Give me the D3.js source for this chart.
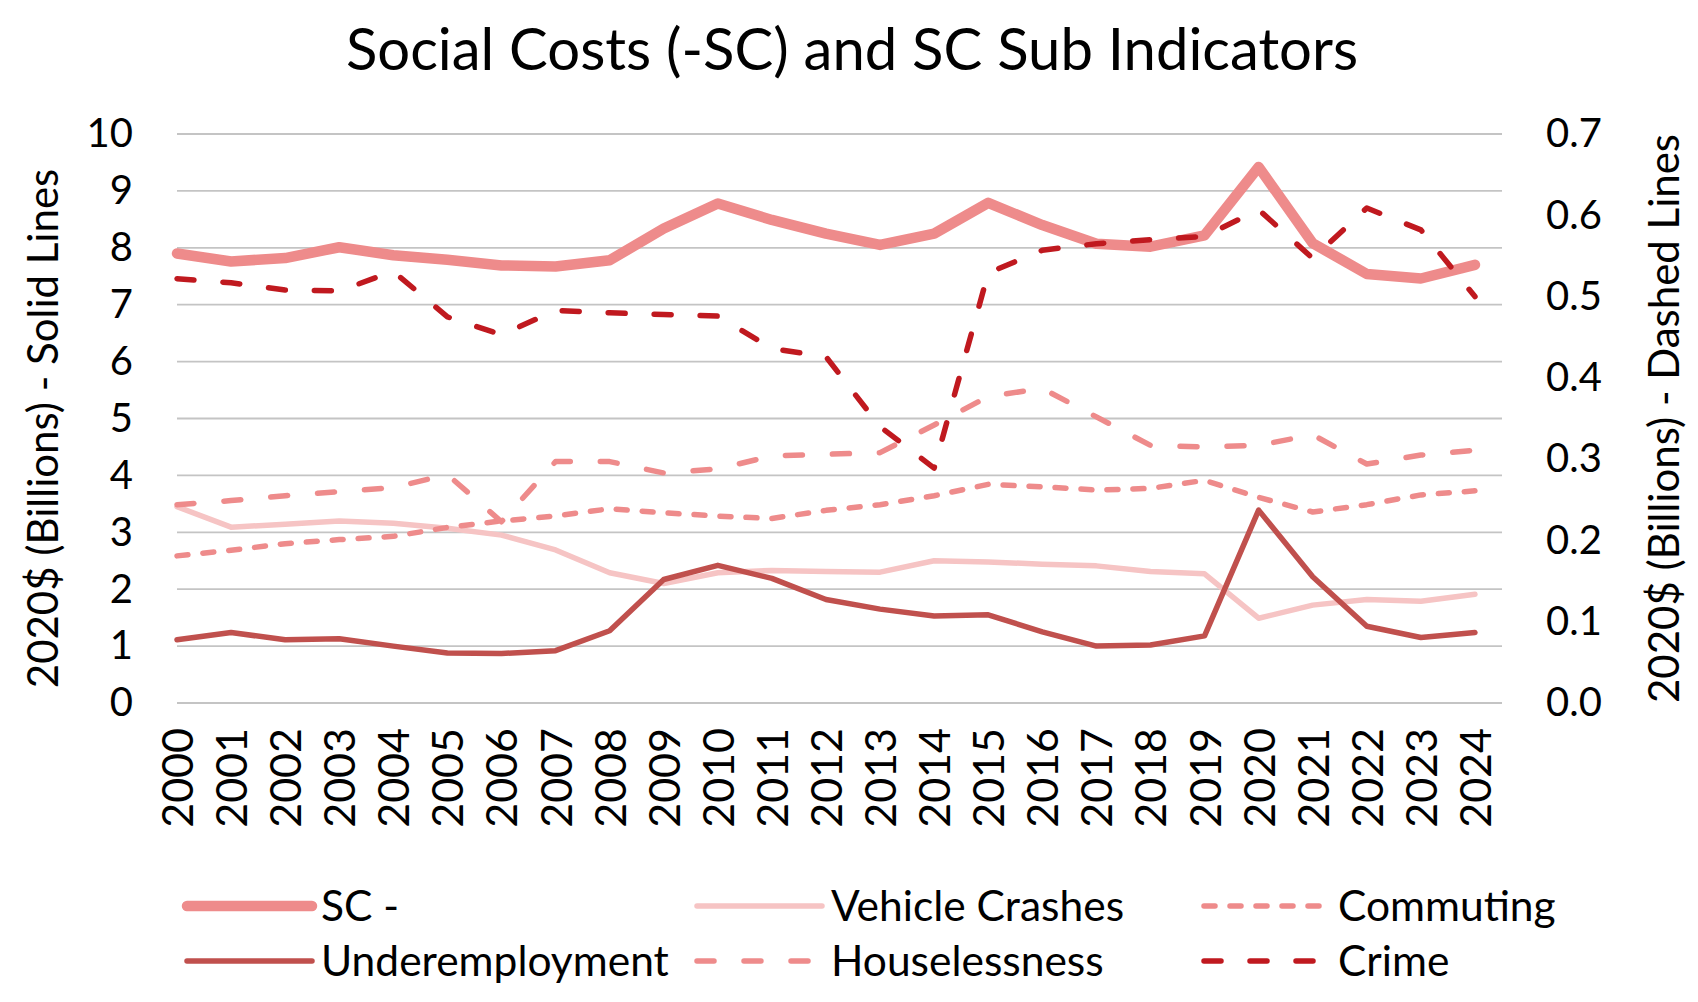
<!DOCTYPE html>
<html>
<head>
<meta charset="utf-8">
<script src="https://cdn.jsdelivr.net/npm/d3@7"></script>
<style>
  body { margin: 0; background: #fff; }
  svg { display: block; font-family: Lato, "Open Sans", sans-serif; }
</style>
</head>
<body>
<svg id="chart"></svg>
<script>
const years = d3.range(2000, 2025).map(String);

// left axis (solid lines)
const scTotal = [7.90, 7.76, 7.82, 8.01, 7.87, 7.79, 7.69, 7.67, 7.78, 8.34, 8.78, 8.49, 8.25, 8.05, 8.25, 8.79, 8.40, 8.07, 8.02, 8.22, 9.42, 8.08, 7.54, 7.46, 7.70];
const vehicleCrashes = [3.45, 3.09, 3.14, 3.20, 3.16, 3.07, 2.95, 2.69, 2.29, 2.10, 2.29, 2.33, 2.31, 2.30, 2.50, 2.48, 2.44, 2.41, 2.31, 2.27, 1.49, 1.72, 1.82, 1.79, 1.91];
const underemployment = [1.11, 1.24, 1.11, 1.13, 1.00, 0.88, 0.87, 0.92, 1.27, 2.17, 2.42, 2.19, 1.82, 1.65, 1.53, 1.55, 1.25, 1.00, 1.02, 1.18, 3.39, 2.22, 1.35, 1.15, 1.24];

// right axis (dashed lines)
const commuting = [0.181, 0.188, 0.196, 0.201, 0.205, 0.216, 0.224, 0.230, 0.239, 0.234, 0.230, 0.227, 0.237, 0.244, 0.255, 0.269, 0.266, 0.262, 0.264, 0.274, 0.253, 0.235, 0.244, 0.256, 0.261];
const houselessness = [0.244, 0.249, 0.255, 0.260, 0.265, 0.281, 0.223, 0.297, 0.297, 0.283, 0.288, 0.304, 0.306, 0.308, 0.342, 0.377, 0.387, 0.352, 0.317, 0.315, 0.317, 0.330, 0.294, 0.305, 0.311];
const crime = [0.522, 0.517, 0.508, 0.507, 0.531, 0.475, 0.453, 0.483, 0.480, 0.478, 0.476, 0.436, 0.426, 0.340, 0.289, 0.529, 0.557, 0.565, 0.570, 0.574, 0.607, 0.547, 0.609, 0.582, 0.500];

const leftTicks = d3.range(0, 11);
const rightTicks = d3.range(0, 0.71, 0.1);

const series = [
  {name: "SC -", values: scTotal, axis: "left", color: "#ee8b8b", width: 10.5, dash: null},
  {name: "Vehicle Crashes", values: vehicleCrashes, axis: "left", color: "#f6c4c4", width: 5.5, dash: null},
  {name: "Commuting", values: commuting, axis: "right", color: "#ee8b8b", width: 5.5, dash: "11,15"},
  {name: "Underemployment", values: underemployment, axis: "left", color: "#c0504d", width: 5.5, dash: null},
  {name: "Houselessness", values: houselessness, axis: "right", color: "#ee8b8b", width: 5.5, dash: "17,30"},
  {name: "Crime", values: crime, axis: "right", color: "#c0191f", width: 5.5, dash: "17,29"}
];

const width = 1698, height = 1002;
const plot = {left: 177, right: 1502, top: 134, bottom: 703};

const svg = d3.select("#chart")
  .attr("width", width)
  .attr("height", height);

const x = d3.scalePoint()
  .domain(years)
  .range([plot.left, plot.right - (plot.right - plot.left) / 49]);

const yLeft = d3.scaleLinear().domain([0, 10]).range([plot.bottom, plot.top]);
const yRight = d3.scaleLinear().domain([0, 0.7]).range([plot.bottom, plot.top]);

// gridlines
svg.append("g")
  .selectAll("line")
  .data(leftTicks)
  .join("line")
  .attr("x1", plot.left)
  .attr("x2", plot.right)
  .attr("y1", d => yLeft(d))
  .attr("y2", d => yLeft(d))
  .attr("stroke", "#c4c4c4")
  .attr("stroke-width", 1.8);

// left axis
const leftAxis = svg.append("g")
  .attr("transform", `translate(${plot.left - 44},0)`)
  .call(d3.axisLeft(yLeft).tickValues(leftTicks).tickSize(0).tickPadding(0).tickFormat(d3.format("d")));
leftAxis.select(".domain").remove();
leftAxis.selectAll("text")
  .attr("font-family", "Lato")
  .attr("font-size", 40)
  .attr("fill", "#000");

// right axis
const rightAxis = svg.append("g")
  .attr("transform", `translate(${plot.right + 44},0)`)
  .call(d3.axisRight(yRight).tickValues(rightTicks).tickSize(0).tickPadding(0).tickFormat(d3.format(".1f")));
rightAxis.select(".domain").remove();
rightAxis.selectAll("text")
  .attr("font-family", "Lato")
  .attr("font-size", 40)
  .attr("fill", "#000");

// x axis, rotated labels
const xAxis = svg.append("g")
  .attr("transform", `translate(0,${plot.bottom + 25})`)
  .call(d3.axisBottom(x).tickSize(0).tickPadding(0));
xAxis.select(".domain").remove();
xAxis.selectAll("text")
  .attr("font-family", "Lato")
  .attr("font-size", 43)
  .attr("fill", "#000")
  .attr("transform", "rotate(-90)")
  .attr("text-anchor", "end")
  .attr("dy", "0.36em")
  .attr("x", 0)
  .attr("y", 0);

// lines: primary series first, secondary on top
const drawOrder = series.filter(s => s.axis === "left").concat(series.filter(s => s.axis === "right"));

svg.append("g")
  .selectAll("path")
  .data(drawOrder)
  .join("path")
  .attr("fill", "none")
  .attr("stroke", d => d.color)
  .attr("stroke-width", d => d.width)
  .attr("stroke-linecap", "round")
  .attr("stroke-linejoin", "round")
  .attr("stroke-dasharray", d => d.dash)
  .attr("d", d => {
    const y = d.axis === "left" ? yLeft : yRight;
    return d3.line().x((v, i) => x(years[i])).y(v => y(v))(d.values);
  });

// title
svg.append("text")
  .attr("x", 852)
  .attr("y", 70)
  .attr("text-anchor", "middle")
  .attr("font-size", 58)
  .attr("fill", "#000")
  .text("Social Costs (-SC) and SC Sub Indicators");

// axis titles
svg.append("text")
  .attr("transform", `translate(58,${(plot.top + plot.bottom) / 2 + 10}) rotate(-90)`)
  .attr("text-anchor", "middle")
  .attr("font-size", 42)
  .text("2020$ (Billions) - Solid Lines");

svg.append("text")
  .attr("transform", `translate(1679,${(plot.top + plot.bottom) / 2}) rotate(-90)`)
  .attr("text-anchor", "middle")
  .attr("font-size", 42)
  .text("2020$ (Billions) - Dashed Lines");

// legend
const legendCols = [187, 697, 1204];
const legendRows = [906, 961];
const legend = svg.append("g")
  .selectAll("g")
  .data(series)
  .join("g")
  .attr("transform", (d, i) => `translate(${legendCols[i % 3]},${legendRows[Math.floor(i / 3)]})`);

legend.append("line")
  .attr("x1", 0)
  .attr("x2", 125)
  .attr("stroke", d => d.color)
  .attr("stroke-width", d => d.width)
  .attr("stroke-linecap", "round")
  .attr("stroke-dasharray", d => d.dash);

legend.append("text")
  .attr("x", 134)
  .attr("dy", "0.36em")
  .attr("font-size", 42.5)
  .attr("fill", "#000")
  .text(d => d.name);
</script>
</body>
</html>
